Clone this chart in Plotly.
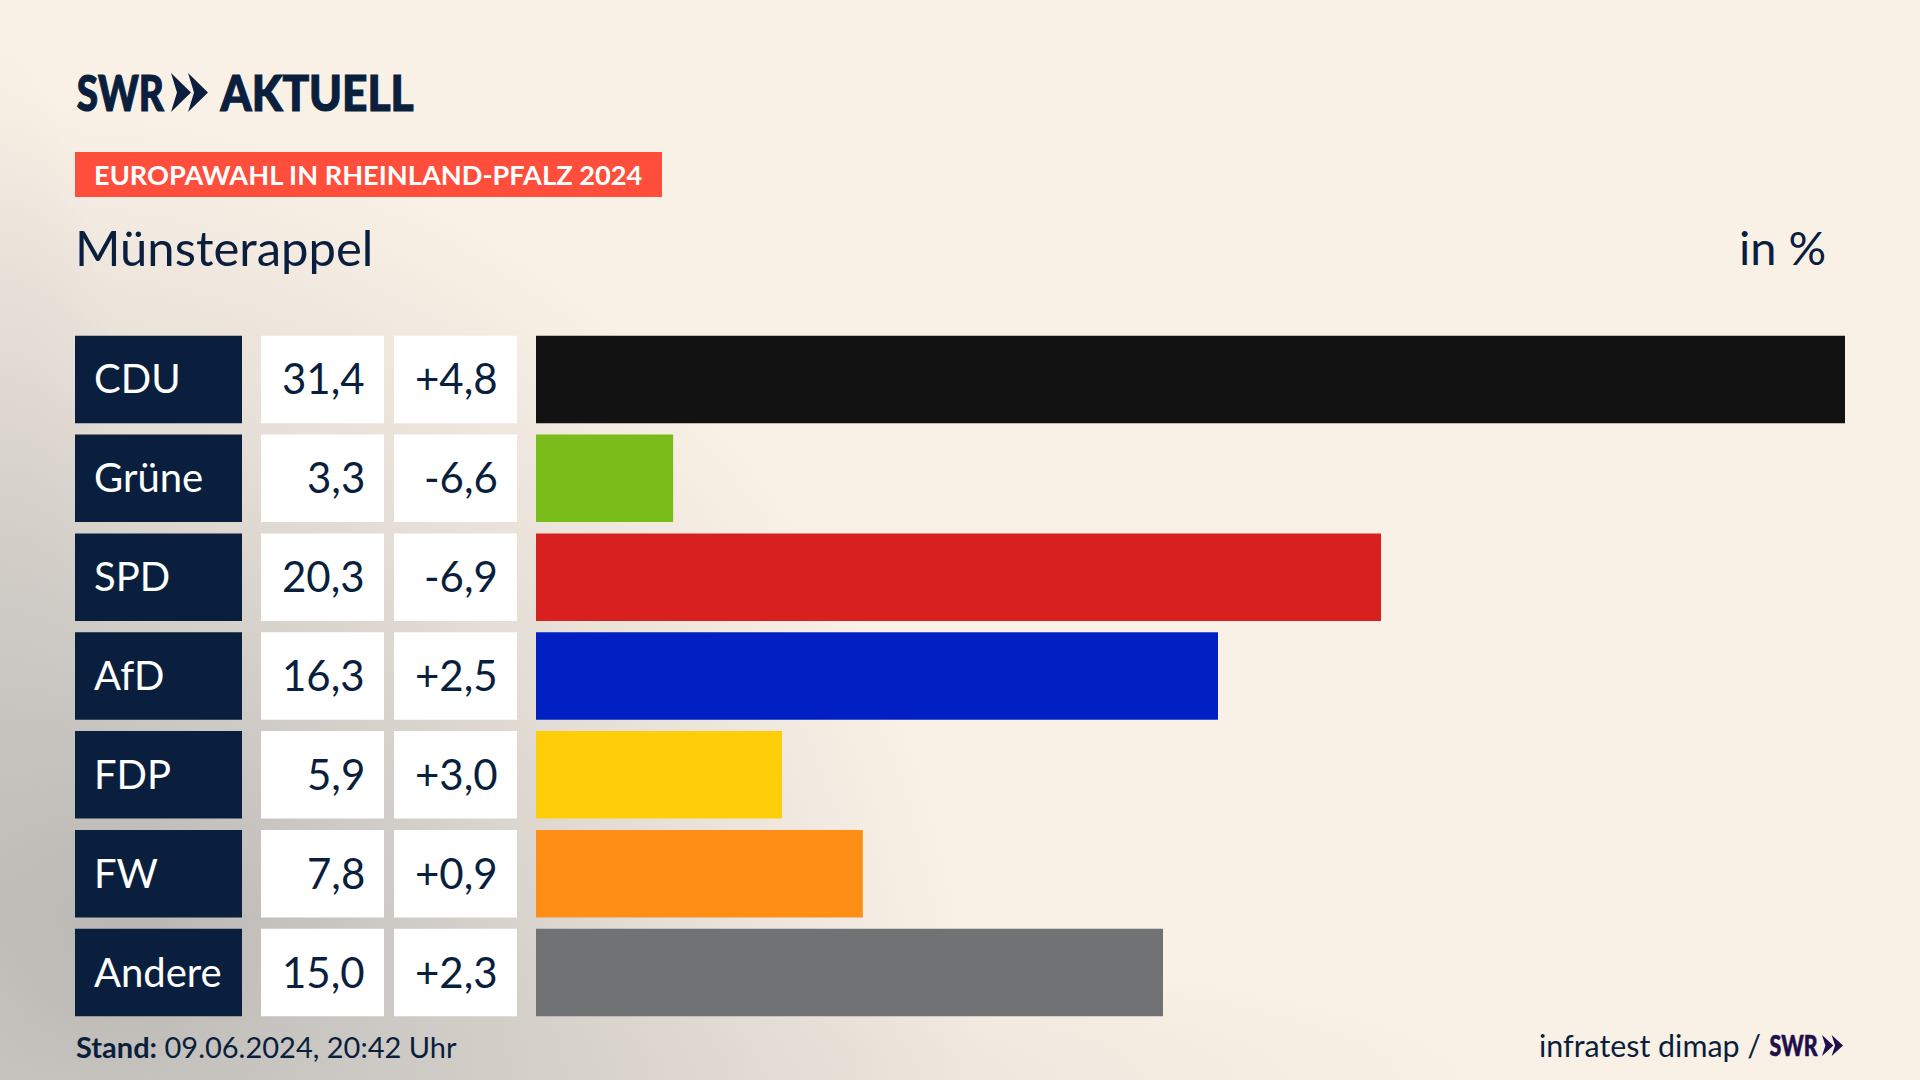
"""
SWR Aktuell - Europawahl Rheinland-Pfalz 2024, Muensterappel
"""

import base64
import plotly.graph_objects as go

W, H = 1920, 1080

# Data
parties = ['CDU', 'Grüne', 'SPD', 'AfD', 'FDP', 'FW', 'Andere']
shares = [31.4, 3.29, 20.27, 16.36, 5.90, 7.84, 15.04]  # bar lengths as measured
share_labels = ['31,4', '3,3', '20,3', '16,3', '5,9', '7,8', '15,0']
change_labels = ['+4,8', '-6,6', '-6,9', '+2,5', '+3,0', '+0,9', '+2,3']
bar_colors = ['#121212', '#7ABD1A', '#D8201E', '#0020C4', '#FFCE09', '#FF8E17', '#707274']

NAVY = '#0A1F3E'
FONT = 'Lato'


def fx(px):
    return px / W


def fy(px):
    return 1 - px / H


def chevrons(x, y, w, h, fill):
    # two arrow heads of the SWR logo, pixel box -> paper path
    out = []
    cw = w * 0.54
    for i in range(2):
        x0 = x + i * (w - cw)
        pts = [(x0, y), (x0 + cw, y + h / 2), (x0, y + h), (x0 + cw * 0.3, y + h / 2)]
        d = 'M ' + ' L '.join(f'{fx(a):.5f},{fy(b):.5f}' for a, b in pts) + ' Z'
        out.append(dict(type='path', path=d, xref='paper', yref='paper',
                        fillcolor=fill, line=dict(width=0)))
    return out


# Background: cream with grey shade from the lower left corner, running along both edges
svg = f'''<svg xmlns="http://www.w3.org/2000/svg" width="{W}" height="{H}">
<defs>
<radialGradient id="a" gradientUnits="userSpaceOnUse" cx="0" cy="1080" r="980">
<stop offset="0" stop-color="#A3A3A1"/>
<stop offset="0.35" stop-color="#C6C3BF"/>
<stop offset="0.7" stop-color="#E6DFD7"/>
<stop offset="1" stop-color="#FAF1E6"/>
</radialGradient>
<radialGradient id="b" gradientUnits="userSpaceOnUse" cx="0" cy="0" r="1"
 gradientTransform="translate(0 1080) scale(1500 170)">
<stop offset="0" stop-color="#D0CBC5" stop-opacity="0.7"/>
<stop offset="1" stop-color="#D0CBC5" stop-opacity="0"/>
</radialGradient>
<radialGradient id="c" gradientUnits="userSpaceOnUse" cx="0" cy="0" r="1"
 gradientTransform="translate(0 1080) scale(160 1050)">
<stop offset="0" stop-color="#C8C4BF" stop-opacity="0.7"/>
<stop offset="1" stop-color="#C8C4BF" stop-opacity="0"/>
</radialGradient>
</defs>
<rect width="{W}" height="{H}" fill="url(#a)"/>
<rect width="{W}" height="{H}" fill="url(#b)"/>
<rect width="{W}" height="{H}" fill="url(#c)"/>
</svg>'''
bg_uri = 'data:image/svg+xml;base64,' + base64.b64encode(svg.encode()).decode()

fig = go.Figure()

# Bars
fig.add_trace(go.Bar(x=shares, y=parties, orientation='h', marker_color=bar_colors,
                     marker_line_width=0, xaxis='x', yaxis='y', width=0.885, showlegend=False))

# Table columns
for axis, color in (('x2', NAVY), ('x3', 'white'), ('x4', 'white')):
    fig.add_trace(go.Bar(x=[1] * len(parties), y=parties, orientation='h', marker_color=color,
                         marker_line_width=0, xaxis=axis, yaxis='y', width=0.885, showlegend=False))

annotations = []
for name, share, change in zip(parties, share_labels, change_labels):
    annotations.append(dict(text=name, x=0, y=name, xref='x2', yref='y', xanchor='left', xshift=17,
                            yshift=1, showarrow=False, font=dict(family=FONT, size=40, color='white')))
    annotations.append(dict(text=share, x=1, y=name, xref='x3', yref='y', xanchor='right', xshift=-17,
                            yshift=1, showarrow=False, font=dict(family=FONT, size=42, color=NAVY)))
    annotations.append(dict(text=change, x=1, y=name, xref='x4', yref='y', xanchor='right', xshift=-17,
                            yshift=1, showarrow=False, font=dict(family=FONT, size=42, color=NAVY)))


def label(text, x, y, size, color=NAVY, anchor='left', bold=False):
    return dict(text=f'<b>{text}</b>' if bold else text, x=fx(x), y=fy(y), xref='paper', yref='paper',
                xanchor=anchor, yanchor='middle', showarrow=False,
                font=dict(family=FONT, size=size, color=color))


def logo(text, x, y, size, color=NAVY):
    # centered, the width gets squeezed after drawing (see post_script)
    return dict(text=text, x=fx(x), y=fy(y), xref='paper', yref='paper', xanchor='center', yanchor='middle',
                showarrow=False, font=dict(family=FONT, size=size, color=color, weight=900))


annotations += [
    logo('SWR', 120.5, 92, 50),
    logo('AKTUELL', 316.5, 92, 50),
    label('EUROPAWAHL IN RHEINLAND-PFALZ 2024', 92, 175, 27.2, color='white', bold=True),
    label('Münsterappel', 73, 247, 49),
    label('in %', 1828, 247, 47, anchor='right'),
    label('<b>Stand:</b> 09.06.2024, 20:42 Uhr', 74, 1046, 29),
    label('infratest dimap /', 1763, 1045, 30.4, anchor='right'),
    logo('SWR', 1794, 1045, 28, color='#1F0F4A'),
]

shapes = [dict(type='rect', xref='paper', yref='paper', x0=fx(75), x1=fx(662), y0=fy(197), y1=fy(152),
               fillcolor='#FF4F3C', line=dict(width=0), layer='below')]
shapes += chevrons(171, 73, 37, 39, NAVY)
shapes += chevrons(1822, 1035, 21, 21, '#1F0F4A')

fig.update_layout(
    width=W,
    height=H,
    margin=dict(l=0, r=0, t=0, b=0),
    paper_bgcolor='rgba(0,0,0,0)',
    plot_bgcolor='rgba(0,0,0,0)',
    barmode='overlay',
    showlegend=False,
    font=dict(family=FONT, color=NAVY),
    xaxis=dict(domain=[fx(536), fx(1845)], range=[0, 31.4], visible=False),
    xaxis2=dict(domain=[fx(75), fx(242)], range=[0, 1], visible=False),
    xaxis3=dict(domain=[fx(261), fx(384)], range=[0, 1], visible=False),
    xaxis4=dict(domain=[fx(394), fx(517)], range=[0, 1], visible=False),
    yaxis=dict(domain=[fy(1022), fy(330)], categoryorder='array', categoryarray=parties,
               autorange='reversed', visible=False),
    annotations=annotations,
    shapes=shapes,
    images=[dict(source=bg_uri, xref='paper', yref='paper', x=0, y=1, sizex=1, sizey=1,
                 sizing='stretch', layer='below')],
)

# the logo lettering is narrower and heavier than any installed font
squeeze = """
document.body.style.margin='0';
document.documentElement.style.overflow='hidden';
document.querySelectorAll('.annotation-text').forEach(function (t) {
  var len = 0;
  if (t.textContent === 'AKTUELL') len = 193;
  if (t.textContent === 'SWR') len = parseFloat(t.style.fontSize) > 40 ? 87 : 48;
  if (len) {
    t.setAttribute('textLength', len);
    t.setAttribute('lengthAdjust', 'spacingAndGlyphs');
    t.style.stroke = t.style.fill;
    t.style.strokeWidth = len > 48 ? '1.2px' : '0.6px';
  }
});
"""

fig.write_html('out.html', config=dict(displayModeBar=False), post_script=squeeze)
